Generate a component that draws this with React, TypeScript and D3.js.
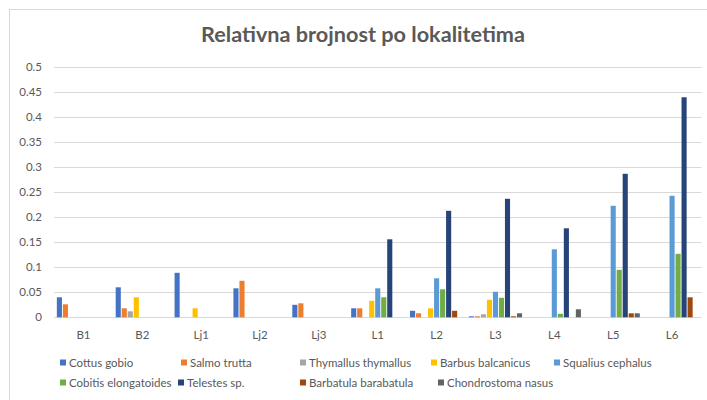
import React from "react";
import * as d3 from "d3";

const title = "Relativna brojnost po lokalitetima";
const categories = ["B1", "B2", "Lj1", "Lj2", "Lj3", "L1", "L2", "L3", "L4", "L5", "L6"];
const seriesNames = [
  "Cottus gobio",
  "Salmo trutta",
  "Thymallus thymallus",
  "Barbus balcanicus",
  "Squalius cephalus",
  "Cobitis elongatoides",
  "Telestes sp.",
  "Barbatula barabatula",
  "Chondrostoma nasus",
];
const seriesColors = ["#4472C4", "#ED7D31", "#A5A5A5", "#FFC000", "#5B9BD5", "#70AD47", "#264478", "#9E480E", "#636363"];

const cottusGobio = [0.04, 0.06, 0.089, 0.058, 0.025, 0.018, 0.013, 0.002, 0, 0, 0];
const salmoTrutta = [0.026, 0.018, 0, 0.073, 0.028, 0.018, 0.008, 0.002, 0, 0, 0];
const thymallus = [0, 0.012, 0, 0, 0, 0, 0, 0.006, 0, 0, 0];
const barbus = [0, 0.04, 0.018, 0, 0, 0.033, 0.018, 0.035, 0, 0, 0];
const squalius = [0, 0, 0, 0, 0, 0.058, 0.078, 0.051, 0.136, 0.223, 0.243];
const cobitis = [0, 0, 0, 0, 0, 0.04, 0.056, 0.039, 0.007, 0.095, 0.127];
const telestes = [0, 0, 0, 0, 0, 0.156, 0.213, 0.237, 0.178, 0.287, 0.44];
const barbatula = [0, 0, 0, 0, 0, 0, 0.013, 0.002, 0, 0.008, 0.04];
const chondrostoma = [0, 0, 0, 0, 0, 0, 0, 0.008, 0.016, 0.008, 0];

const seriesValues = [cottusGobio, salmoTrutta, thymallus, barbus, squalius, cobitis, telestes, barbatula, chondrostoma];
const yTicks = [0, 0.05, 0.1, 0.15, 0.2, 0.25, 0.3, 0.35, 0.4, 0.45, 0.5];
const yTickLabels = ["0", "0.05", "0.1", "0.15", "0.2", "0.25", "0.3", "0.35", "0.4", "0.45", "0.5"];

// legend layout: [row, x]
const legendRows = [0, 0, 0, 0, 0, 1, 1, 1, 1];
const legendXs = [60, 181, 300, 431, 554, 60, 178, 300, 438];

const W = 707;
const H = 400;
const FONT = "Lato, 'Open Sans', sans-serif";
const TEXT = "#595959";

export default function App() {
  const x0 = d3.scaleBand<string>().domain(categories).range([54, 701.5]).paddingInner(0).paddingOuter(0);
  const bw = x0.bandwidth();
  const x1 = d3
    .scaleBand<string>()
    .domain(seriesNames)
    .range([bw * 0.04, bw * 0.96])
    .paddingInner(0.15)
    .paddingOuter(0.08);
  const y = d3.scaleLinear().domain([0, 0.5]).range([317.3, 67.3]);

  return (
    <div style={{ position: "absolute", left: 0, top: 0 }}>
      <svg width={W} height={H} style={{ display: "block", background: "#fff" }}>
        <rect x={0} y={0} width={W} height={H} fill="#fff" />
        <rect x={9.5} y={9.5} width={W + 20} height={H + 20} fill="none" stroke="#d9d9d9" strokeWidth={1} />
        <text
          x={363}
          y={41.5}
          textAnchor="middle"
          fontFamily={FONT}
          fontWeight={700}
          fontSize={21.5}
          textLength={324}
          lengthAdjust="spacingAndGlyphs"
          fill={TEXT}
        >
          {title}
        </text>
        {yTicks.map((t, i) => (
          <g key={t}>
            <line x1={54} x2={701.5} y1={Math.round(y(t)) + 0.5} y2={Math.round(y(t)) + 0.5} stroke="#d9d9d9" strokeWidth={1} />
            <text x={42} y={y(t) + 4} textAnchor="end" fontFamily={FONT} fontSize={11.5} fill={TEXT}>
              {yTickLabels[i]}
            </text>
          </g>
        ))}
        {categories.map((c, ci) => (
          <g key={c} transform={`translate(${x0(c)},0)`}>
            {seriesNames.map((s, si) => {
              const v = seriesValues[si][ci];
              if (!v) return null;
              return (
                <rect
                  key={s}
                  x={x1(s)}
                  y={y(v)}
                  width={x1.bandwidth()}
                  height={y(0) - y(v)}
                  fill={seriesColors[si]}
                />
              );
            })}
            <text x={bw / 2} y={339} textAnchor="middle" fontFamily={FONT} fontSize={11.5} fill={TEXT}>
              {c}
            </text>
          </g>
        ))}
        {seriesNames.map((s, i) => {
          const ly = legendRows[i] === 0 ? 363 : 383;
          return (
            <g key={s} transform={`translate(${legendXs[i]},${ly})`}>
              <rect x={0} y={-3.5} width={6} height={6} fill={seriesColors[i]} />
              <text x={9} y={3.8} fontFamily={FONT} fontSize={11.5} fill={TEXT}>
                {s}
              </text>
            </g>
          );
        })}
      </svg>
    </div>
  );
}
